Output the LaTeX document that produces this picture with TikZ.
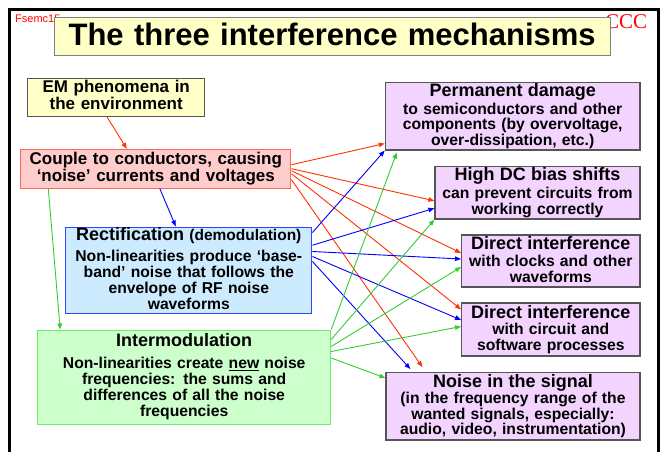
\documentclass[tikz,border=0pt]{standalone}
\usepackage{fontspec}
\setmainfont{Liberation Sans}
\newfontfamily\serifcc{Liberation Serif}
\usetikzlibrary{arrows.meta}
\definecolor{titleyellow}{HTML}{FFFFC8}
\definecolor{couplefill}{HTML}{FFCCCC}
\definecolor{coupleline}{HTML}{FF6655}
\definecolor{rectfill}{HTML}{CCEBFF}
\definecolor{rectline}{HTML}{3344FF}
\definecolor{interfill}{HTML}{CCFFCC}
\definecolor{interline}{HTML}{66EE66}
\definecolor{effectfill}{HTML}{F2D4FF}
\definecolor{effectline}{HTML}{555555}
\definecolor{redwire}{HTML}{FF3300}
\definecolor{bluewire}{HTML}{0000FF}
\definecolor{greenwire}{HTML}{33CC33}
\newcommand{\headsize}{\fontsize{18}{18}\selectfont}
\newcommand{\lift}[1]{\rule[-#1]{0pt}{0pt}}
\begin{document}
\begin{tikzpicture}[x=1pt,y=-1pt]
\tikzstyle{every node}+=[inner sep=0pt]
\tikzstyle{srcbox}=[draw, line width=1pt, align=center, font=\fontsize{17}{17}\selectfont\bfseries]
\tikzstyle{mechbox}=[draw, line width=1pt, align=center, font=\fontsize{15.7}{16}\selectfont\bfseries]
\tikzstyle{effectbox}=[draw=effectline, fill=effectfill, line width=1.2pt, align=center, font=\fontsize{15.7}{15.8}\selectfont\bfseries]
\tikzstyle{wire}=[line width=0.9pt, -{Triangle[length=6pt,width=4.5pt]}]
\useasboundingbox (0,0) rectangle (665,452);
\draw[line width=3pt] (9.5,452) -- (9.5,9.5) -- (658.5,9.5) -- (658.5,452);
\node[anchor=base west, text=red, font=\fontsize{11}{11}\selectfont] (slideref) at (15,22.7) {Fsemc15};
\node[anchor=base west, text=red, font=\serifcc\fontsize{21}{21}\selectfont] (logo) at (605,28.3) {CCC};
\node[draw=gray, fill=titleyellow, line width=1pt, text width=555.7pt, minimum height=38pt, text depth=5pt, align=center, font=\fontsize{31}{31}\selectfont\bfseries] (title) at (332.2,36.3) {The three interference mechanisms};
\node[srcbox, fill=titleyellow, draw=effectline, text width=177pt, minimum height=38.4pt] (em) at (116.2,97.5) {EM phenomena in\\the environment\lift{4.5pt}};
\node[srcbox, fill=couplefill, draw=coupleline, text width=270.3pt, minimum height=38.7pt] (couple) at (155.8,168.7) {Couple to conductors, causing\\‘noise’ currents and voltages};
\node[mechbox, fill=rectfill, draw=rectline, text width=246.3pt, minimum height=86pt] (rect) at (188.8,270) {{\headsize Rectification} {\fontsize{15.5}{15.5}\selectfont (demodulation)}\\[5.5pt]Non-linearities produce ‘base-\\band’ noise that follows the\\envelope of RF noise\\waveforms\lift{3pt}};
\node[mechbox, fill=interfill, draw=interline, text width=293pt, minimum height=94pt] (inter) at (184.2,377) {{\headsize Intermodulation}\\[6pt]Non-linearities create \underline{new} noise\\frequencies: the sums and\\differences of all the noise\\frequencies};
\node[effectbox, text width=254.7pt, minimum height=67.3pt] (perm) at (512.7,116.3) {{\headsize Permanent damage}\\[1.5pt]to semiconductors and other\\components (by overvoltage,\\over-dissipation, etc.)};
\node[effectbox, text width=205pt, minimum height=52.3pt] (dc) at (537.5,192.8) {{\headsize High DC bias shifts}\\[1.8pt]can prevent circuits from\\working correctly};
\node[effectbox, text width=178.3pt, minimum height=52pt] (dirclk) at (550.8,261) {{\headsize Direct interference}\\[1pt]with clocks and other\\waveforms\lift{2.6pt}};
\node[effectbox, text width=178.3pt, minimum height=53pt] (dirsw) at (550.8,329.5) {{\headsize Direct interference}\\[1pt]with circuit and\\software processes};
\node[effectbox, text width=254pt, minimum height=67.3pt] (noise) at (513,406.3) {{\headsize Noise in the signal}\\(in the frequency range of the\\wanted signals, especially:\\audio, video, instrumentation)};
\draw[wire, redwire] ([xshift=-9pt]em.south) -- ([xshift=-29pt]couple.north);
\draw[wire, bluewire] ([xshift=4pt]couple.south) -- ([xshift=-13pt]rect.north);
\draw[wire, greenwire] ([xshift=-107.5pt]couple.south) -- ([xshift=-124pt]inter.north);
\draw[wire, redwire] ([yshift=4pt]couple.east) -- ([yshift=7pt]perm.south west);
\draw[wire, redwire] (couple.east) -- ([yshift=-8pt]dc.west);
\draw[wire, redwire] ([yshift=-2pt]couple.east) -- ([yshift=8pt]dirclk.west);
\draw[wire, redwire] ([yshift=-5pt]couple.east) -- ([yshift=-7pt]dirsw.north west);
\draw[wire, redwire] ([yshift=-11pt]couple.east) -- ([xshift=37pt,yshift=5pt]noise.north west);
\draw[wire, bluewire] ([yshift=-6pt]rect.north east) -- (perm.south west);
\draw[wire, bluewire] ([yshift=-18.7pt]rect.north east) -- ([yshift=11.3pt]dc.south west);
\draw[wire, bluewire] ([yshift=-25pt]rect.north east) -- ([yshift=2pt]dirclk.west);
\draw[wire, bluewire] ([yshift=-30pt]rect.north east) -- ([yshift=9.5pt]dirsw.west);
\draw[wire, bluewire] ([yshift=-35pt]rect.north east) -- ([xshift=25pt,yshift=3pt]noise.north west);
\draw[wire, greenwire] (inter.north east) -- ([xshift=12pt,yshift=-2pt]perm.south west);
\draw[wire, greenwire] ([yshift=-10pt]inter.north east) -- (dc.south west);
\draw[wire, greenwire] ([yshift=-17pt]inter.north east) -- ([yshift=-6pt]dirclk.west);
\draw[wire, greenwire] ([yshift=-22pt]inter.north east) -- ([yshift=3pt]dirsw.west);
\draw[wire, greenwire] ([yshift=-28.5pt]inter.north east) -- ([yshift=-6pt]noise.north west);
\end{tikzpicture}
\end{document}
